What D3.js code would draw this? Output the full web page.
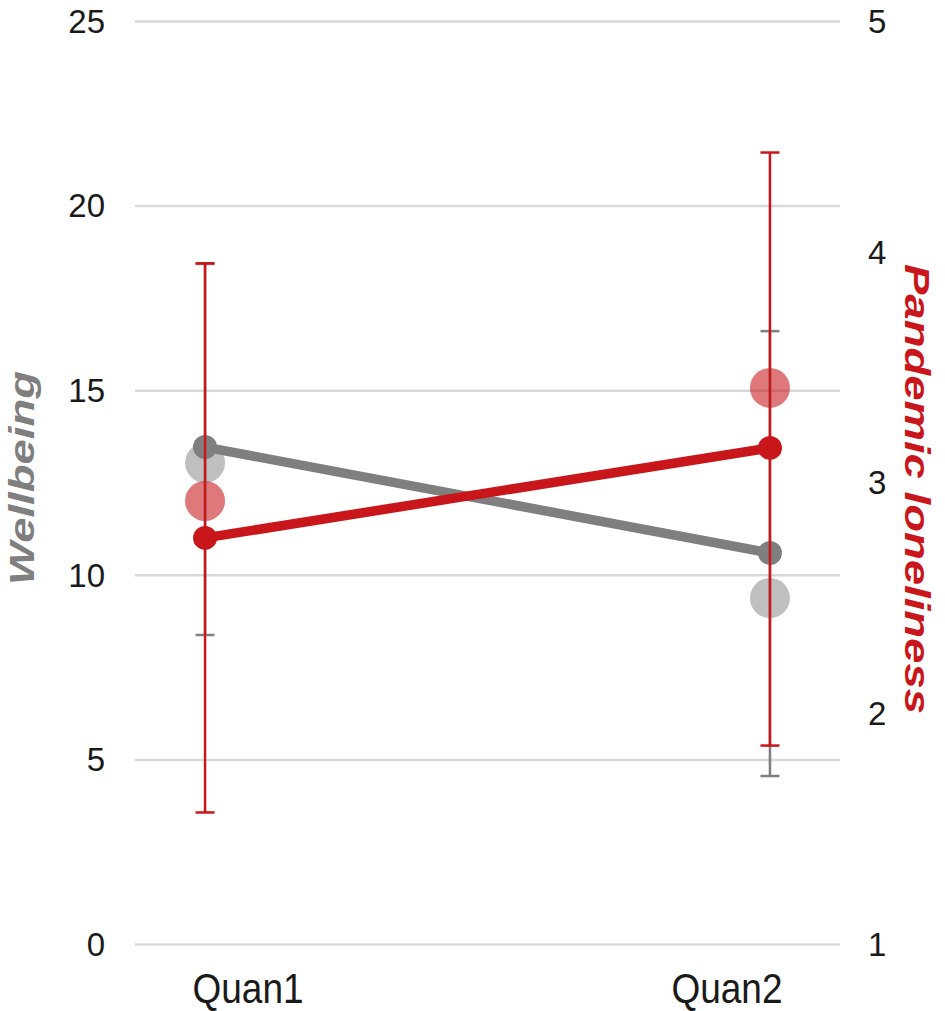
<!DOCTYPE html>
<html>
<head>
<meta charset="utf-8">
<script src="https://cdn.jsdelivr.net/npm/d3@7.9.0/dist/d3.min.js"></script>
<style>
  body { margin: 0; background: #fff; }
  svg text { font-family: Arial, "Liberation Sans", sans-serif; }
</style>
</head>
<body>
<svg id="chart" width="945" height="1011"></svg>
<script>
// data
const waves = ['Quan1', 'Quan2'];
const wellMean = [13.46, 10.59];
const wellLow = [8.37, 4.55];
const wellHigh = [18.42, 16.6];
const wellRaw = [13.03, 9.37];        // big faded dots
const lonelyMean = [2.76, 3.15];
const lonelyLow = [1.57, 1.86];
const lonelyHigh = [3.95, 4.43];
const lonelyRaw = [2.92, 3.41];
const leftTicks = [0, 5, 10, 15, 20, 25];
const rightTicks = [1, 2, 3, 4, 5];

const red = '#c8161b';
const grey = '#7f7f7f';

const svg = d3.select('#chart');

let x = d3.scalePoint().domain(waves).range([135, 840]).padding(0.124);
let xLab = d3.scalePoint().domain(waves).range([135, 840]).padding(0.236);
let yL = d3.scaleLinear().domain([0, 25]).range([944, 21]);
let yR = d3.scaleLinear().domain([1, 5]).range([944, 21]);

// gridlines
svg.append('g')
  .attr('transform', 'translate(135,0)')
  .call(d3.axisLeft(yL).tickValues(leftTicks).tickSize(-705).tickFormat(''))
  .call(g => g.select('.domain').remove())
  .call(g => g.selectAll('line').attr('stroke', '#d9d9d9').attr('stroke-width', 2.5));

// left tick labels
svg.append('g')
  .selectAll('text')
  .data(leftTicks)
  .join('text')
  .attr('x', 105)
  .attr('y', d => yL(d))
  .attr('dy', '0.36em')
  .attr('text-anchor', 'end')
  .attr('font-size', 33)
  .attr('fill', '#1a1a1a')
  .text(d => d);

// right tick labels
svg.append('g')
  .selectAll('text')
  .data(rightTicks)
  .join('text')
  .attr('x', 868)
  .attr('y', d => yR(d))
  .attr('dy', '0.36em')
  .attr('font-size', 33)
  .attr('fill', '#1a1a1a')
  .text(d => d);

// category labels (a touch taller than wide, as in the source)
svg.append('g')
  .selectAll('text')
  .data(waves)
  .join('text')
  .attr('transform', d => `translate(${xLab(d)},1003) scale(1,1.13)`)
  .attr('text-anchor', 'middle')
  .attr('font-size', 37)
  .attr('fill', '#1a1a1a')
  .text(d => d);

// axis titles, stretched along their length like the original
svg.append('text')
  .attr('transform', `translate(34,478) rotate(-90) scale(1.3,1)`)
  .attr('text-anchor', 'middle')
  .attr('font-size', 35)
  .attr('font-weight', 'bold')
  .attr('font-style', 'italic')
  .attr('fill', grey)
  .text('Wellbeing');

svg.append('text')
  .attr('transform', `translate(905,489) rotate(90) scale(1.3,1)`)
  .attr('text-anchor', 'middle')
  .attr('font-size', 35)
  .attr('font-weight', 'bold')
  .attr('font-style', 'italic')
  .attr('fill', red)
  .text('Pandemic loneliness');

// big faded dots
svg.append('g')
  .selectAll('circle')
  .data(waves)
  .join('circle')
  .attr('cx', d => x(d))
  .attr('cy', (d, i) => yL(wellRaw[i]))
  .attr('r', 20)
  .attr('fill', grey)
  .attr('opacity', 0.5);

svg.append('g')
  .selectAll('circle')
  .data(waves)
  .join('circle')
  .attr('cx', d => x(d))
  .attr('cy', (d, i) => yR(lonelyRaw[i]))
  .attr('r', 20)
  .attr('fill', red)
  .attr('opacity', 0.58);

function errorBars(low, high, y, color) {
  let g = svg.append('g').attr('stroke', color).attr('stroke-width', 2.5);
  waves.forEach((w, i) => {
    let cx = x(w);
    g.append('line').attr('x1', cx).attr('x2', cx).attr('y1', y(low[i])).attr('y2', y(high[i]));
    [low[i], high[i]].forEach(v => {
      g.append('line').attr('x1', cx - 9.5).attr('x2', cx + 9.5).attr('y1', y(v)).attr('y2', y(v));
    });
  });
}

function meanLine(vals, y, color) {
  let line = d3.line().x((d, i) => x(waves[i])).y(d => y(d));
  svg.append('path')
    .datum(vals)
    .attr('d', line)
    .attr('fill', 'none')
    .attr('stroke', color)
    .attr('stroke-width', 9.5);
  svg.append('g')
    .selectAll('circle')
    .data(vals)
    .join('circle')
    .attr('cx', (d, i) => x(waves[i]))
    .attr('cy', d => y(d))
    .attr('r', 12)
    .attr('fill', color);
}

errorBars(wellLow, wellHigh, yL, grey);
meanLine(wellMean, yL, grey);
errorBars(lonelyLow, lonelyHigh, yR, red);
meanLine(lonelyMean, yR, red);
</script>
</body>
</html>
